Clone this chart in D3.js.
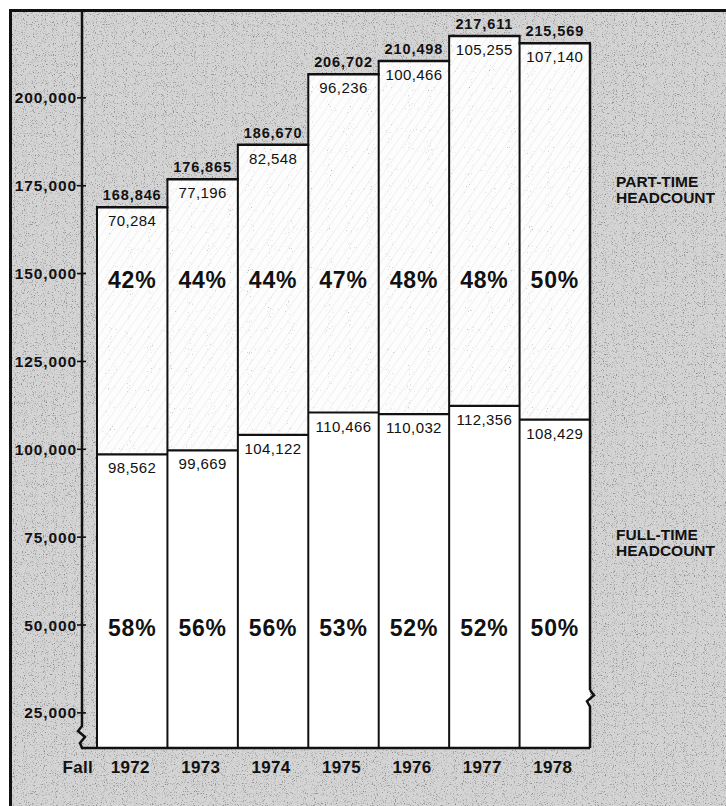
<!DOCTYPE html>
<meta charset="utf-8">
<style>
body { margin: 0; background: #fff; }
.lab { font-family: "Liberation Sans", Arial, sans-serif; fill: #111; }
.bold { font-weight: bold; }
</style>
<body>
<script src="https://d3js.org/d3.v7.min.js"></script>
<script>

// data
var years = ["1972", "1973", "1974", "1975", "1976", "1977", "1978"];
var fullTime = [98562, 99669, 104122, 110466, 110032, 112356, 108429];
var partTime = [70284, 77196, 82548, 96236, 100466, 105255, 107140];
var fullPct = [58, 56, 56, 53, 52, 52, 50];
var partPct = [42, 44, 44, 47, 48, 48, 50];
var yTicks = [25000, 50000, 75000, 100000, 125000, 150000, 175000, 200000];

var W = 726, H = 806;
var fmt = d3.format(",");

var svg = d3.select("body").append("svg")
    .attr("width", W)
    .attr("height", H);

var defs = svg.append("defs");

// scanned paper speckle
var f = defs.append("filter").attr("id", "speckle")
    .attr("x", 0).attr("y", 0).attr("width", "100%").attr("height", "100%");
f.append("feTurbulence").attr("type", "fractalNoise")
    .attr("baseFrequency", 0.9).attr("numOctaves", 2).attr("seed", 4);
f.append("feColorMatrix").attr("type", "matrix")
    .attr("values", "0 0 0 0 0.25  0 0 0 0 0.25  0 0 0 0 0.25  4 0 0 0 -2.25");

var f2 = defs.append("filter").attr("id", "sparse")
    .attr("x", 0).attr("y", 0).attr("width", "100%").attr("height", "100%");
f2.append("feTurbulence").attr("type", "fractalNoise")
    .attr("baseFrequency", 0.95).attr("numOctaves", 1).attr("seed", 9);
f2.append("feColorMatrix").attr("type", "matrix")
    .attr("values", "0 0 0 0 0.4  0 0 0 0 0.4  0 0 0 0 0.4  6 0 0 0 -4.1");

var hatch = defs.append("pattern").attr("id", "hatch")
    .attr("patternUnits", "userSpaceOnUse")
    .attr("width", 7).attr("height", 7)
    .attr("patternTransform", "rotate(35)");
hatch.append("rect").attr("width", 7).attr("height", 7).attr("fill", "#fdfdfd");
hatch.append("line").attr("x1", 0).attr("y1", 0).attr("x2", 0).attr("y2", 7)
    .attr("stroke", "#e6e6e6").attr("stroke-width", 1);

// scales
var x = d3.scaleBand().domain(years).range([97, 590]).padding(0);
var y = d3.scaleLinear().domain([15000, 225000]).range([748, 10]);
var axisX = 82;

// paper background inside the frame
svg.append("rect").attr("x", 10).attr("y", 10)
    .attr("width", W - 10).attr("height", H - 10).attr("fill", "#d4d4d4");
svg.append("rect").attr("x", 10).attr("y", 10)
    .attr("width", W - 10).attr("height", H - 10)
    .attr("fill", "#000").attr("filter", "url(#speckle)");

// frame
svg.append("path")
    .attr("d", "M10.5," + H + "V10.5H" + W)
    .attr("fill", "none").attr("stroke", "#111").attr("stroke-width", 3);

var rows = years.map(function(yr, i) {
  return { year: yr, full: fullTime[i], part: partTime[i],
           total: fullTime[i] + partTime[i], fp: fullPct[i], pp: partPct[i] };
});

// bars
var g = svg.append("g");
g.selectAll(".full").data(rows).enter().append("rect")
    .attr("x", function(d) { return x(d.year); })
    .attr("y", function(d) { return y(d.full); })
    .attr("width", x.bandwidth())
    .attr("height", function(d) { return y(15000) - y(d.full); })
    .attr("fill", "#fff");
g.selectAll(".part").data(rows).enter().append("rect")
    .attr("x", function(d) { return x(d.year); })
    .attr("y", function(d) { return y(d.total); })
    .attr("width", x.bandwidth())
    .attr("height", function(d) { return y(d.full) - y(d.total); })
    .attr("fill", "url(#hatch)");
g.selectAll(".partsp").data(rows).enter().append("rect")
    .attr("x", function(d) { return x(d.year); })
    .attr("y", function(d) { return y(d.total); })
    .attr("width", x.bandwidth())
    .attr("height", function(d) { return y(d.full) - y(d.total); })
    .attr("fill", "#000").attr("filter", "url(#sparse)");

// bar outlines
g.selectAll(".side").data(rows).enter().append("line")
    .attr("x1", function(d) { return x(d.year); })
    .attr("x2", function(d) { return x(d.year); })
    .attr("y1", function(d, i) { return y(i > 0 ? Math.max(d.total, rows[i - 1].total) : d.total); })
    .attr("y2", y(15000))
    .attr("stroke", "#111").attr("stroke-width", 2);
g.append("line")
    .attr("x1", x.range()[1]).attr("x2", x.range()[1])
    .attr("y1", y(rows[rows.length - 1].total)).attr("y2", y(31500))
    .attr("stroke", "#111").attr("stroke-width", 2.5);
g.selectAll(".top").data(rows).enter().append("line")
    .attr("x1", function(d) { return x(d.year) - 1; })
    .attr("x2", function(d) { return x(d.year) + x.bandwidth() + 1; })
    .attr("y1", function(d) { return y(d.total); })
    .attr("y2", function(d) { return y(d.total); })
    .attr("stroke", "#111").attr("stroke-width", 2.5);
g.selectAll(".mid").data(rows).enter().append("line")
    .attr("x1", function(d) { return x(d.year); })
    .attr("x2", function(d) { return x(d.year) + x.bandwidth(); })
    .attr("y1", function(d) { return y(d.full); })
    .attr("y2", function(d) { return y(d.full); })
    .attr("stroke", "#111").attr("stroke-width", 2.2);

// y axis line with break
var yb = y(15000);
svg.append("path")
    .attr("d", "M" + axisX + ",10V" + (yb - 22) +
               "L" + (axisX - 4) + "," + (yb - 17) +
               "L" + (axisX + 3) + "," + (yb - 11) +
               "L" + (axisX - 2) + "," + (yb - 5) +
               "L" + axisX + "," + yb +
               "H" + x.range()[1])
    .attr("fill", "none").attr("stroke", "#111").attr("stroke-width", 2.5)
    .attr("stroke-linejoin", "miter");
// right break
var xr = x.range()[1];
svg.append("path")
    .attr("d", "M" + xr + "," + y(31500) +
               "L" + (xr + 4) + "," + y(30000) +
               "L" + (xr - 3) + "," + y(28300) +
               "L" + xr + "," + y(26800) + "V" + yb)
    .attr("fill", "none").attr("stroke", "#111").attr("stroke-width", 2.5);

// y ticks
var yt = svg.append("g");
yt.selectAll("line").data(yTicks).enter().append("line")
    .attr("x1", axisX - 5).attr("x2", axisX + 4)
    .attr("y1", function(d) { return y(d); })
    .attr("y2", function(d) { return y(d); })
    .attr("stroke", "#111").attr("stroke-width", 1.6);
yt.selectAll("text").data(yTicks).enter().append("text")
    .attr("class", "lab bold")
    .attr("x", axisX - 5).attr("y", function(d) { return y(d); })
    .attr("dy", "0.36em").attr("text-anchor", "end")
    .style("font-size", "15.5px").style("letter-spacing", "0.9px")
    .text(function(d) { return fmt(d); });

// labels on bars
var cx = function(d) { return x(d.year) + x.bandwidth() / 2; };
svg.selectAll(".tot").data(rows).enter().append("text")
    .attr("class", "lab bold")
    .attr("x", cx).attr("y", function(d) { return y(d.total) - 7; })
    .attr("text-anchor", "middle")
    .style("font-size", "14.5px").style("letter-spacing", "0.9px")
    .text(function(d) { return fmt(d.total); });
svg.selectAll(".pv").data(rows).enter().append("text")
    .attr("class", "lab")
    .attr("x", cx).attr("y", function(d) { return y(d.total) + 19; })
    .attr("text-anchor", "middle")
    .style("font-size", "15px").style("letter-spacing", "0.4px")
    .text(function(d) { return fmt(d.part); });
svg.selectAll(".fv").data(rows).enter().append("text")
    .attr("class", "lab")
    .attr("x", cx).attr("y", function(d) { return y(d.full) + 19; })
    .attr("text-anchor", "middle")
    .style("font-size", "15px").style("letter-spacing", "0.4px")
    .text(function(d) { return fmt(d.full); });
svg.selectAll(".pp").data(rows).enter().append("text")
    .attr("class", "lab bold")
    .attr("x", cx).attr("y", y(146000))
    .attr("text-anchor", "middle")
    .style("font-size", "23px").style("letter-spacing", "0.8px")
    .text(function(d) { return d.pp + "%"; });
svg.selectAll(".fp").data(rows).enter().append("text")
    .attr("class", "lab bold")
    .attr("x", cx).attr("y", y(47000))
    .attr("text-anchor", "middle")
    .style("font-size", "23px").style("letter-spacing", "0.8px")
    .text(function(d) { return d.fp + "%"; });

// x labels
svg.selectAll(".yr").data(years).enter().append("text")
    .attr("class", "lab bold")
    .attr("x", function(d) { return x(d) + x.bandwidth() / 2 - 2; })
    .attr("y", yb + 25)
    .attr("text-anchor", "middle")
    .style("font-size", "17px").style("letter-spacing", "0.3px")
    .text(function(d) { return d; });
svg.append("text").attr("class", "lab bold")
    .attr("x", axisX + 11).attr("y", yb + 25)
    .attr("text-anchor", "end")
    .style("font-size", "17px").style("letter-spacing", "0.3px")
    .text("Fall");

// series labels on the right
var lx = xr + 26;
[["PART-TIME", "HEADCOUNT", 174600], ["FULL-TIME", "HEADCOUNT", 74200]].forEach(function(l) {
  var t = svg.append("text").attr("class", "lab bold")
      .attr("x", lx).attr("y", y(l[2]))
      .style("font-size", "15.5px");
  t.append("tspan").attr("x", lx).text(l[0]);
  t.append("tspan").attr("x", lx).attr("dy", 16).text(l[1]);
});

</script>
</body>
